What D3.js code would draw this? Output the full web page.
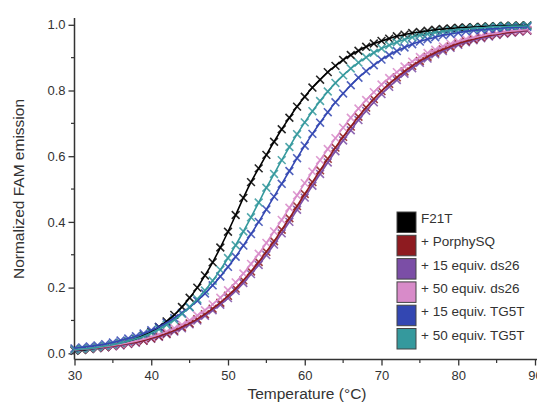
<!DOCTYPE html>
<html>
<head>
<meta charset="utf-8">
<script src="https://cdn.jsdelivr.net/npm/d3@7"></script>
<style>
  html, body { margin: 0; padding: 0; background: #fff; }
  svg { display: block; }
  text { font-family: "Liberation Sans", Arial, sans-serif; fill: #333; }
</style>
</head>
<body>
<svg id="chart" width="537" height="405"></svg>
<script>
// ---- data ----
const temperatures = [30,31,32,33,34,35,36,37,38,39,40,41,42,43,44,45,46,47,48,49,50,51,52,53,54,55,56,57,58,59,60,61,62,63,64,65,66,67,68,69,70,71,72,73,74,75,76,77,78,79,80,81,82,83,84,85,86,87,88,89];

const seriesNames = ["F21T", "+ PorphySQ", "+ 15 equiv. ds26", "+ 50 equiv. ds26", "+ 15 equiv. TG5T", "+ 50 equiv. TG5T"];
const seriesColors = ["#000000", "#8e1b20", "#7b4ea6", "#d88bc9", "#3347b2", "#35999d"];

const f21t = [0.008,0.010,0.013,0.016,0.019,0.024,0.029,0.036,0.044,0.054,0.065,0.080,0.097,0.117,0.141,0.169,0.200,0.237,0.277,0.322,0.370,0.421,0.473,0.521,0.563,0.604,0.644,0.682,0.717,0.751,0.781,0.809,0.833,0.856,0.875,0.893,0.908,0.921,0.933,0.943,0.951,0.958,0.965,0.970,0.975,0.978,0.982,0.985,0.987,0.989,0.991,0.992,0.993,0.994,0.995,0.996,0.997,0.997,0.998,0.998];
const porphySQ = [0.011,0.012,0.014,0.017,0.019,0.022,0.026,0.030,0.034,0.039,0.046,0.052,0.060,0.069,0.080,0.091,0.104,0.119,0.136,0.154,0.175,0.197,0.222,0.249,0.278,0.309,0.341,0.376,0.411,0.448,0.485,0.521,0.557,0.592,0.626,0.659,0.690,0.720,0.748,0.774,0.798,0.820,0.840,0.858,0.875,0.890,0.903,0.915,0.925,0.934,0.943,0.950,0.956,0.962,0.967,0.971,0.975,0.978,0.981,0.983];
const ds26_15 = [0.010,0.012,0.014,0.016,0.018,0.021,0.024,0.028,0.032,0.038,0.044,0.050,0.058,0.066,0.076,0.088,0.100,0.114,0.131,0.148,0.168,0.190,0.214,0.241,0.269,0.299,0.331,0.365,0.400,0.437,0.474,0.510,0.546,0.581,0.615,0.648,0.679,0.710,0.738,0.764,0.789,0.811,0.832,0.851,0.868,0.884,0.897,0.910,0.920,0.930,0.939,0.947,0.953,0.959,0.964,0.969,0.973,0.976,0.979,0.982];
const ds26_50 = [0.011,0.013,0.015,0.018,0.021,0.024,0.028,0.032,0.037,0.043,0.050,0.057,0.066,0.076,0.087,0.100,0.115,0.131,0.149,0.169,0.192,0.216,0.243,0.272,0.303,0.336,0.371,0.406,0.443,0.481,0.518,0.553,0.588,0.622,0.655,0.687,0.717,0.745,0.771,0.795,0.818,0.838,0.856,0.873,0.888,0.902,0.914,0.924,0.934,0.942,0.949,0.956,0.961,0.966,0.971,0.974,0.978,0.981,0.983,0.985];
const tg5t_15 = [0.015,0.018,0.021,0.024,0.028,0.033,0.039,0.045,0.052,0.060,0.070,0.080,0.093,0.107,0.123,0.140,0.160,0.182,0.207,0.234,0.263,0.294,0.328,0.363,0.400,0.438,0.477,0.516,0.555,0.594,0.632,0.668,0.702,0.734,0.764,0.791,0.816,0.839,0.859,0.877,0.894,0.908,0.920,0.931,0.941,0.949,0.956,0.962,0.968,0.972,0.976,0.980,0.983,0.985,0.987,0.989,0.991,0.992,0.993,0.994];
const tg5t_50 = [0.011,0.013,0.015,0.018,0.022,0.026,0.031,0.037,0.044,0.052,0.062,0.073,0.087,0.102,0.120,0.141,0.165,0.191,0.221,0.254,0.290,0.329,0.371,0.414,0.459,0.504,0.546,0.588,0.628,0.667,0.703,0.737,0.768,0.797,0.823,0.846,0.867,0.885,0.901,0.915,0.928,0.938,0.947,0.955,0.962,0.968,0.972,0.977,0.980,0.983,0.986,0.988,0.990,0.991,0.993,0.994,0.995,0.996,0.996,0.997];

const xTicks = [30, 40, 50, 60, 70, 80, 90];
const xMinorTicks = [35, 45, 55, 65, 75, 85];
const yTicks = [0.0, 0.2, 0.4, 0.6, 0.8, 1.0];
const yMinorTicks = [0.1, 0.3, 0.5, 0.7, 0.9];

const seriesValues = [f21t, porphySQ, ds26_15, ds26_50, tg5t_15, tg5t_50];
// drawing order (back to front)
const drawOrder = [0, 2, 1, 3, 4, 5];

// ---- chart ----
const svg = d3.select("#chart");
const x = d3.scaleLinear().domain([30, 90]).range([74.5, 535]);
const y = d3.scaleLinear().domain([0, 1]).range([353.3, 24.8]);
const axisColor = "#333";

// axes
const xAxisY = 359.5;
const yAxisX = 74.5;
svg.append("line").attr("x1", yAxisX).attr("x2", 537).attr("y1", xAxisY).attr("y2", xAxisY)
  .attr("stroke", axisColor).attr("stroke-width", 1.5);
svg.append("line").attr("x1", yAxisX).attr("x2", yAxisX).attr("y1", 18).attr("y2", xAxisY)
  .attr("stroke", axisColor).attr("stroke-width", 1.5);

const xAxis = d3.axisBottom(x).tickValues(xTicks).tickFormat(d3.format("d")).tickSize(6).tickPadding(5);
const gx = svg.append("g").attr("transform", `translate(0,${xAxisY})`).call(xAxis);
gx.select(".domain").remove();
gx.selectAll(".tick line").attr("stroke", axisColor).attr("stroke-width", 1.3);
gx.selectAll(".tick text").attr("font-size", 13).attr("fill", "#333")
  .attr("font-family", "Liberation Sans, Arial, sans-serif");
svg.append("g").selectAll("line").data(xMinorTicks).join("line")
  .attr("x1", d => x(d)).attr("x2", d => x(d)).attr("y1", xAxisY).attr("y2", xAxisY + 3.5)
  .attr("stroke", axisColor).attr("stroke-width", 1.2);

const yAxis = d3.axisLeft(y).tickValues(yTicks).tickFormat(d3.format(".1f")).tickSize(6).tickPadding(3);
const gy = svg.append("g").attr("transform", `translate(${yAxisX},0)`).call(yAxis);
gy.select(".domain").remove();
gy.selectAll(".tick line").attr("stroke", axisColor).attr("stroke-width", 1.3);
gy.selectAll(".tick text").attr("font-size", 13).attr("fill", "#333")
  .attr("font-family", "Liberation Sans, Arial, sans-serif");
svg.append("g").selectAll("line").data(yMinorTicks).join("line")
  .attr("x1", yAxisX - 3.5).attr("x2", yAxisX).attr("y1", d => y(d)).attr("y2", d => y(d))
  .attr("stroke", axisColor).attr("stroke-width", 1.2);

// axis titles
svg.append("text").attr("x", 307).attr("y", 399).attr("text-anchor", "middle")
  .attr("font-size", 15.5).text("Temperature (°C)");
svg.append("text").attr("transform", "translate(24,189) rotate(-90)").attr("text-anchor", "middle")
  .attr("font-size", 15.5).text("Normalized FAM emission");

// markers
const h = 3.9;
const markerPath = `M${-h},${-h}L${h},${h}M${-h},${h}L${h},${-h}`;
drawOrder.forEach(i => {
  const pts = temperatures.map((t, k) => [t, seriesValues[i][k]]);
  svg.append("g").selectAll("path").data(pts).join("path")
    .attr("d", markerPath)
    .attr("transform", d => `translate(${x(d[0])},${y(d[1])})`)
    .attr("fill", "none").attr("stroke", seriesColors[i]).attr("stroke-width", 1.6)
    .attr("opacity", 0.85);
});

// fitted lines
const line = d3.line().x(d => x(d[0])).y(d => y(d[1])).curve(d3.curveMonotoneX);
drawOrder.forEach(i => {
  const pts = temperatures.map((t, k) => [t, seriesValues[i][k]]);
  svg.append("path").datum(pts).attr("d", line)
    .attr("fill", "none").attr("stroke", seriesColors[i]).attr("stroke-width", 1.6);
});

// legend
const lg = svg.append("g");
seriesNames.forEach((name, i) => {
  const top = 212 + i * 23.3;
  lg.append("rect").attr("x", 397).attr("y", top).attr("width", 19).attr("height", 20.5)
    .attr("fill", seriesColors[i]).attr("stroke", "#444").attr("stroke-width", 1);
  lg.append("text").attr("x", 421).attr("y", top + 11).attr("font-size", 13.5)
    .attr("fill", "#333").text(name);
});
</script>
</body>
</html>
